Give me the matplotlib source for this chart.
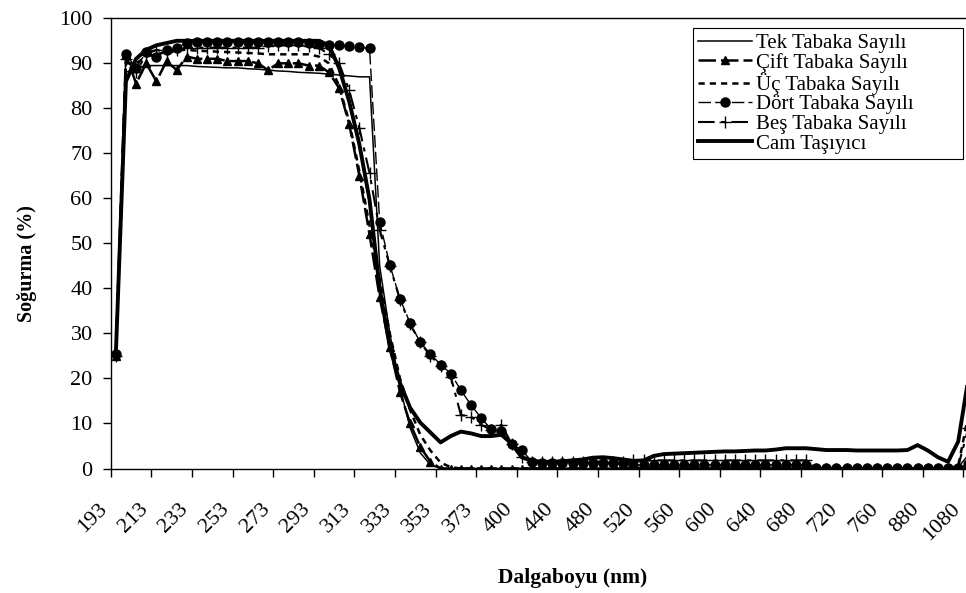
import matplotlib
matplotlib.use("Agg")
import matplotlib.pyplot as plt
from matplotlib.transforms import ScaledTranslation

plt.rcParams['font.family'] = ['Liberation Serif', 'DejaVu Serif']

# categories (wavelength, nm) - Excel category axis
wavelengths = (list(range(193, 374, 5)) + [380, 387, 393, 400]
               + list(range(410, 761, 10)) + [790, 820, 850, 880]
               + [930, 980, 1030, 1080])

tek = [25,
       88, 89, 89.5, 89.5, 89.5,
       89.5, 89.5, 89.3, 89.2, 89.1,
       89, 89, 88.8, 88.7, 88.5,
       88.3, 88.2, 88, 87.9, 87.8,
       87.6, 87.4, 87.2, 87, 87,
       45, 30, 18, 9, 3.5,
       0.8, 0, 0, 0, 0,
       0, 0, 0, 0, 0,
       0, 0, 0, 0, 0, 0, 0, 0, 0, 0,
       0, 0, 0, 0, 0, 0, 0, 0, 0, 0,
       0, 0, 0, 0, 0, 0, 0, 0, 0, 0,
       0, 0, 0, 0, 0, 0, 0, 0, 0, 0,
       0, 0, 0.3, 3]

cift = [25,
        92, 85.5, 90, 86, 90.5,
        88.5, 91.5, 91, 91, 91,
        90.5, 90.5, 90.5, 90, 88.5,
        90, 90, 90, 89.5, 89.5,
        88, 84.5, 76.5, 65, 52,
        38, 27, 17, 10, 4.8,
        1.5, 0, 0, 0, 0,
        0, 0, 0, 0, 0,
        0, 0, 0, 0, 0, 0, 0, 0, 0, 0,
        0, 0, 0, 0, 0, 0, 0, 0, 0, 0,
        0, 0, 0, 0, 0, 0, 0, 0, 0, 0,
        0, 0, 0, 0, 0, 0, 0, 0, 0, 0,
        0, 0, 0, 0]

uc = [25,
      90, 90, 91.5, 92, 92.5,
      93, 93, 92.8, 92.7, 92.6,
      92.5, 92.4, 92.3, 92.2, 92,
      92, 92, 92, 92, 91.5,
      90, 85, 77, 66, 54,
      42, 30, 20, 13, 7.5,
      4, 1.3, 0.3, 0, 0,
      0, 0, 0, 0, 0,
      0, 0, 0, 0, 0, 0, 0, 0, 0, 0,
      0, 0, 0, 0, 0, 0, 0, 0, 0, 0,
      0, 0, 0, 0, 0, 0, 0, 0, 0, 0,
      0, 0, 0, 0, 0, 0, 0, 0, 0, 0,
      0, 0, 0.5, 12]

dort = [25.5,
        92, 89, 92.5, 91.5, 93,
        93.5, 94.5, 94.8, 94.8, 94.8,
        94.8, 94.8, 94.8, 94.8, 94.8,
        94.8, 94.8, 94.8, 94.5, 94.3,
        94, 94, 93.8, 93.6, 93.3,
        54.8, 45.2, 37.7, 32.3, 28,
        25.4, 23.1, 21.1, 17.4, 14.1,
        11.2, 8.7, 8.3, 5.4, 4.1,
        1.5, 1.3, 1.3, 1.3, 1.3, 1.3, 1.2, 1.2, 1.2, 1.2,
        0.8, 0.8, 0.8, 0.8, 0.8, 0.8, 0.8, 0.8, 0.8, 0.8,
        0.8, 0.8, 0.8, 0.8, 0.8, 0.8, 0.8, 0.8, 0.1, 0.1,
        0.1, 0.1, 0.1, 0.1, 0.1, 0.1, 0.1, 0.1, 0.1, 0.1,
        0.1, 0.1, 0.1, 1]

bes = [25,
       91, 88, 92, 93, 92.5,
       93, 93.5, 93.5, 93.5, 93.5,
       93.5, 93.5, 93.5, 93.5, 93.8,
       94, 94, 94, 93.8, 93.5,
       92, 90, 84, 75.6, 65.6,
       53, 45, 37.5, 32, 28,
       25, 22.8, 20.4, 11.9, 11.5,
       9.7, 8.6, 9.7, 5.5, 2.5,
       1.5, 1.5, 1.5, 1.5, 1.5, 1.5, 1.5, 1.5, 1.5, 1.5,
       1.8, 1.8, 1.8, 1.8, 1.8, 1.8, 1.8, 1.8, 1.8, 1.8,
       1.8, 1.8, 1.8, 1.8, 1.8, 1.8, 1.8, 1.8, 0, 0,
       0, 0, 0, 0, 0, 0, 0, 0, 0, 0,
       0, 0, 0.5, 9]

cam = [25,
       86, 91, 93, 94, 94.5,
       95, 95, 95, 95, 95,
       95, 95, 95, 95, 95,
       95, 95, 95, 95, 95,
       94, 89, 81.5, 72, 59.7,
       40, 27, 19, 13.5, 10.2,
       8, 5.8, 7.2, 8.2, 7.8,
       7.2, 7.2, 7.5, 5.5, 2.5,
       1.7, 1.5, 1.5, 1.6, 1.8,
       2.0, 2.4, 2.5, 2.3, 2.0,
       1.7, 1.8, 2.8, 3.2, 3.3,
       3.4, 3.5, 3.6, 3.7, 3.8,
       3.8, 3.9, 4.0, 4.0, 4.2,
       4.5, 4.5, 4.5, 4.3, 4.1,
       4.1, 4.1, 4.0, 4.0, 4.0,
       4.0, 4.0, 4.1, 5.2, 4.0,
       2.5, 1.5, 6, 20]

series_names = ["Tek Tabaka Sayılı", "Çift Tabaka Sayılı", "Üç Tabaka Sayılı",
                "Dört Tabaka Sayılı", "Beş Tabaka Sayılı", "Cam Taşıyıcı"]
tick_labels = [str(w) for w in wavelengths[::4]]

W, H = 966, 593
fig = plt.figure(figsize=(W / 100, H / 100), dpi=100)
ax = fig.add_axes([110.7 / W, 124.5 / H, 862.75 / W, 450.2 / H])

x = list(range(len(wavelengths)))
ax.plot(x, tek, color='black', lw=1.1, label=series_names[0])
ax.plot(x, cift, color='black', lw=1.8, dashes=(7, 2), marker='^', ms=6,
        label=series_names[1])
ax.plot(x, uc, color='black', lw=1.8, dashes=(2.5, 2), label=series_names[2])
ax.plot(x, dort, color='black', lw=1.0, dashes=(9, 3), marker='o', ms=6.5,
        label=series_names[3])
ax.plot(x, bes, color='black', lw=1.5, dashes=(8, 3, 2, 3), marker='+', ms=9,
        mew=1.0, label=series_names[4])
ax.plot(x, cam, color='black', lw=2.8, label=series_names[5])

ax.set_xlim(-0.5, len(wavelengths) - 0.5)
ax.set_ylim(0, 100)
ax.set_yticks(range(0, 101, 10))
ax.tick_params(axis='y', direction='out', length=6, width=1, pad=7,
               labelsize=16, colors='black')
ax.set_xticks([4 * k - 0.5 for k in range(22)])
ax.set_xticklabels([])
ax.tick_params(axis='x', direction='out', length=6, width=1)
for s in ax.spines.values():
    s.set_color('black')
    s.set_linewidth(1.0)

off = ScaledTranslation(-18 / 100, -31 / 100, fig.dpi_scale_trans)
trans = ax.get_xaxis_transform() + off
for k, lab in enumerate(tick_labels):
    ax.text(4 * k, 0, lab, transform=trans, rotation=45, ha='right', va='top',
            rotation_mode='anchor', fontsize=16, clip_on=False)

fig.text(573 / W, (H - 578) / H, "Dalgaboyu (nm)", ha='center', va='center',
         fontsize=15.5, fontweight='bold')
fig.text(27 / W, (H - 264) / H, "Soğurma (%)", ha='center', va='center',
         rotation=90, fontsize=14.5, fontweight='bold')

leg = ax.legend(loc='upper left',
                bbox_to_anchor=(693 / W, (H - 167) / H, 270 / W, 139 / H),
                bbox_transform=fig.transFigure, mode='expand', fontsize=15,
                frameon=True, fancybox=False, edgecolor='black', framealpha=1,
                handlelength=2.6, handletextpad=0.15, labelspacing=0.0,
                borderpad=0.25, borderaxespad=0, numpoints=1)
leg.get_frame().set_linewidth(0.8)

fig.savefig("out.png", dpi=100)
